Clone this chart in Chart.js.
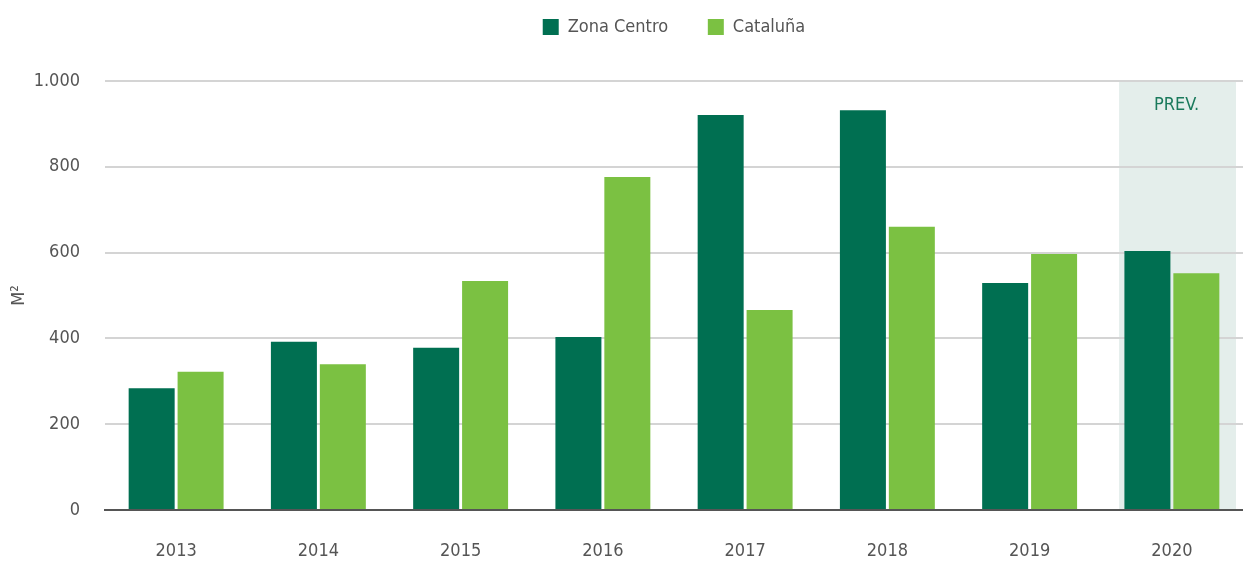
<!DOCTYPE html>
<html><head><meta charset="utf-8">
<script src="https://cdn.jsdelivr.net/npm/chart.js@4"></script>
<style>html,body{margin:0;padding:0;background:#fff;}#wrap{width:1243px;height:561px;}</style>
</head><body><div id="wrap"><canvas id="c" width="1243" height="561"></canvas></div>
<script>
const categories = ['2013','2014','2015','2016','2017','2018','2019','2020'];
const zonaCentro = [284, 392, 378, 403, 921, 932, 529, 604];
const cataluna = [322, 340, 534, 776, 466, 660, 597, 552];
const seriesNames = ['Zona Centro', 'Cataluña'];
const forecastIndex = 7;
const forecastLabel = 'PREV.';

const FONT = '"DejaVu Sans Condensed", "Liberation Sans Narrow", sans-serif';
const TXT = '#555555';

const prevPlugin = {
  id: 'prev',
  beforeDraw(chart) {
    const {ctx, chartArea, scales} = chart;
    const x = scales.x;
    const step = x.getPixelForValue(1) - x.getPixelForValue(0);
    const cx = x.getPixelForValue(forecastIndex) + step * 0.04;
    const w = step * 0.822;
    ctx.save();
    ctx.fillStyle = '#e4eeeb';
    ctx.fillRect(cx - w/2, chartArea.top, w, chartArea.bottom - chartArea.top);
    ctx.fillStyle = '#1a7a5c';
    ctx.font = '18px "DejaVu Sans Condensed", sans-serif';
    ctx.textAlign = 'center';
    ctx.textBaseline = 'middle';
    ctx.fillText(forecastLabel, cx - 1, chartArea.top + 24);
    ctx.restore();
  }
};

const legendMargin = {
  id: 'legendMargin',
  beforeInit(chart) {
    const fit = chart.legend.fit;
    chart.legend.fit = function () { fit.bind(chart.legend)(); this.height += 35; };
  }
};

new Chart(document.getElementById('c'), {
  type: 'bar',
  data: {
    labels: categories,
    datasets: [
      {label: seriesNames[0], data: zonaCentro, backgroundColor: '#006f51', categoryPercentage: 0.688, barPercentage: 0.94},
      {label: seriesNames[1], data: cataluna, backgroundColor: '#7bc142', categoryPercentage: 0.688, barPercentage: 0.94}
    ]
  },
  options: {
    responsive: false,
    animation: false,
    devicePixelRatio: 1,
    layout: {padding: {top: 4, right: 0, left: 0, bottom: 0}},
    plugins: {
      legend: {
        position: 'top',
        fullSize: false,
        labels: {font: {family: FONT, size: 18}, color: TXT, boxWidth: 16, boxHeight: 16, padding: 14,
          generateLabels(chart) {
            return chart.data.datasets.map((d, i) => ({text: d.label + (i === 0 ? '     ' : ''), fillStyle: d.backgroundColor, strokeStyle: d.backgroundColor, lineWidth: 0, datasetIndex: i, fontColor: TXT}));
          }}
      },
      tooltip: {enabled: false}
    },
    scales: {
      x: {
        afterFit: s => { s.height = 51; },
        grid: {display: false, drawTicks: false},
        border: {display: true, color: '#555555', width: 2},
        ticks: {font: {family: FONT, size: 18}, color: TXT, padding: 31}
      },
      y: {
        min: 0, max: 1000,
        afterFit: s => { s.width = 105; },
        grid: {color: '#d4d4d4', lineWidth: 2, drawTicks: false},
        border: {display: false},
        ticks: {stepSize: 200, font: {family: FONT, size: 18}, color: TXT, padding: 25,
          callback: v => v.toString().replace(/\B(?=(\d{3})+(?!\d))/g, '.')},
        title: {display: true, text: 'M²', font: {family: FONT, size: 18}, color: TXT, padding: {top: 9, bottom: 0}}
      }
    }
  },
  plugins: [prevPlugin, legendMargin]
});
</script></body></html>
